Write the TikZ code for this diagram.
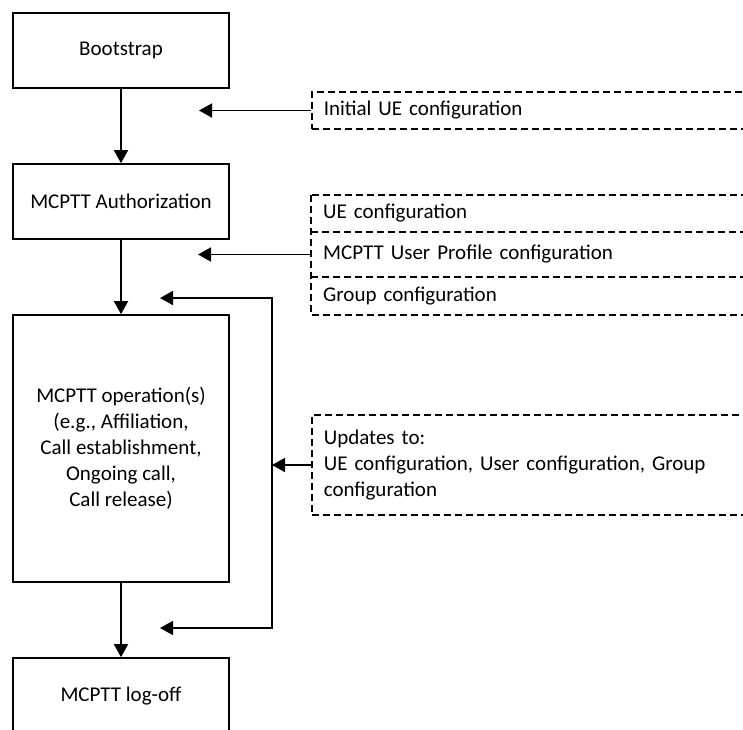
\documentclass[tikz,border=0pt]{standalone}
\usepackage{fontspec}
\setmainfont{Carlito}
\usetikzlibrary{arrows.meta}

\begin{document}
\begin{tikzpicture}[x=1pt,y=-1pt]

\tikzset{every node/.style = {font=\fontsize{21}{26}\selectfont}}
\tikzset{stage/.style = {shape=rectangle,draw,line width=1.7pt,minimum width=216pt,align=center,inner sep=0pt}}
\tikzset{cfg/.style = {shape=rectangle,anchor=west,text width=420pt,align=left,inner xsep=12pt,inner ysep=0pt}}
\tikzset{dashbox/.style = {line width=1.6pt,dash pattern=on 7pt off 4pt}}
\tikzset{arc/.style = {-{Triangle[length=13pt,width=14pt]},line width=1.7pt}}
\tikzset{loop/.style = {{Triangle[length=13pt,width=14pt]}-{Triangle[length=13pt,width=14pt]},line width=1.7pt}}

\clip (0,0) rectangle (743,729);

% stages
\node[stage,minimum height=75pt] (boot) at (121,50.5) {Bootstrap};
\node[stage,minimum height=75pt] (auth) at (121,201.5) {MCPTT Authorization};
\node[stage,minimum height=267pt] (ops) at (121,448.5) {MCPTT operation(s)\\(e.g., Affiliation,\\Call establishment,\\Ongoing call,\\Call release)};
\node[stage,minimum height=75pt] (logoff) at (121,695.5) {MCPTT log-off};

% configuration
\node[cfg,draw,dashbox,minimum height=37pt] (initcfg) at (311,110.5) {Initial UE configuration};
\node[cfg,minimum height=37pt] (uecfg) at (311,213.5) {UE configuration};
\node[cfg,minimum height=45pt] (profcfg) at (311,254.5) {MCPTT User Profile configuration};
\node[cfg,minimum height=38pt] (grpcfg) at (311,296) {Group configuration};
\node[cfg,draw,dashbox,minimum height=100pt] (updcfg) at (311,465) {Updates to:\\UE configuration, User configuration, Group\\configuration};

\draw[dashbox] (uecfg.north west) rectangle (grpcfg.south east);
\draw[dashbox] (profcfg.north west) -- (profcfg.north east);
\draw[dashbox] (profcfg.south west) -- (profcfg.south east);

% arrow ends
\coordinate (tip1) at (199,110.5);
\coordinate (tip2) at (198,254.5);
\coordinate (looptop) at (272,298);
\coordinate (loopbot) at (272,628);
\coordinate (loopin) at (272,465);
\coordinate (tip3) at (160,298);
\coordinate (tip4) at (160,628);

% arcs
\draw[arc] (boot) -- (auth);
\draw[arc] (auth) -- (ops);
\draw[arc] (ops) -- (logoff);
\draw[arc] (initcfg.west) -- (tip1);
\draw[arc] (profcfg.west) -- (tip2);
\draw[arc] (updcfg.west) -- (loopin);
\draw[loop] (tip3) -- (looptop) -- (loopbot) -- (tip4);

\end{tikzpicture}
\end{document}
